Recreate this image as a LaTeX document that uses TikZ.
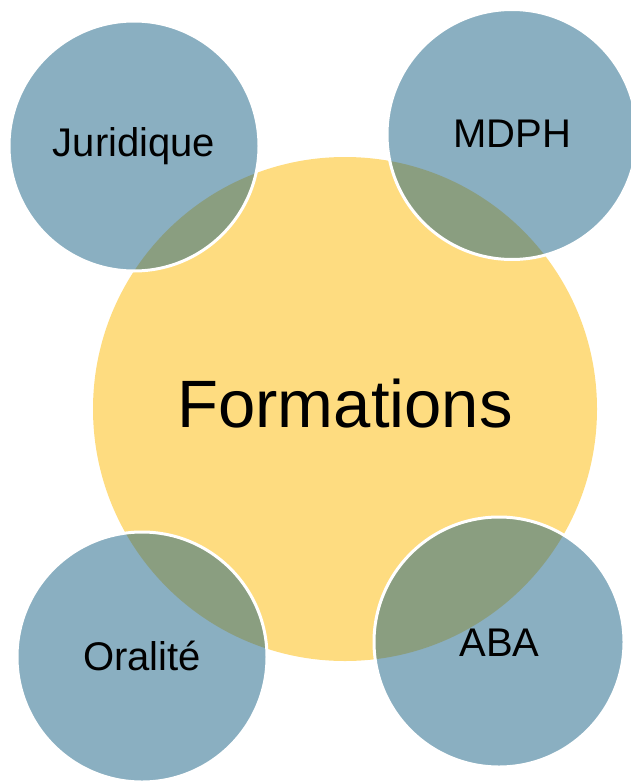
\documentclass[tikz,border=0pt]{standalone}
\usepackage{fontspec}
\setmainfont{Liberation Sans}
\definecolor{yellowc}{RGB}{254,220,128}
\definecolor{bluec}{RGB}{138,175,193}
\definecolor{greenc}{RGB}{138,158,128}
\tikzset{
  smallc/.style={circle, minimum size=250pt, inner sep=0pt},
  bigc/.style={circle, minimum size=504pt, inner sep=0pt},
  smalltext/.style={font=\fontsize{40}{44}\selectfont, anchor=base},
  bigtext/.style={font=\fontsize{67}{72}\selectfont, anchor=base},
}
\begin{document}
\begin{tikzpicture}[x=1pt,y=-1pt]
\clip (0,0) rectangle (631,781);
% big circle
\node[bigc, fill=yellowc] (form) at (345,409) {};
% small circles
\node[smallc, fill=bluec] (jur) at (134,146) {};
\node[smallc, fill=bluec] (mdph) at (512,134.5) {};
\node[smallc, fill=bluec] (oral) at (142,657) {};
\node[smallc, fill=bluec] (aba) at (499,642) {};
% overlaps
\begin{scope}
  \clip (form.center) circle (252);
  \foreach \n in {jur,mdph,oral,aba}{
    \fill[greenc] (\n.center) circle (125);
  }
\end{scope}
% white outlines
\foreach \n in {jur,mdph,oral,aba}{
  \draw[white, line width=3pt] (\n.center) circle (125);
}
% labels
\node[bigtext] (tform) at (345,427) {Formations};
\node[smalltext] (tjur) at (134,157) {Juridique};
\node[smalltext] (tmdph) at (512,147) {MDPH};
\node[smalltext] (toral) at (142,670) {Oralité};
\node[smalltext] (taba) at (499.5,656) {ABA};
\end{tikzpicture}
\end{document}
